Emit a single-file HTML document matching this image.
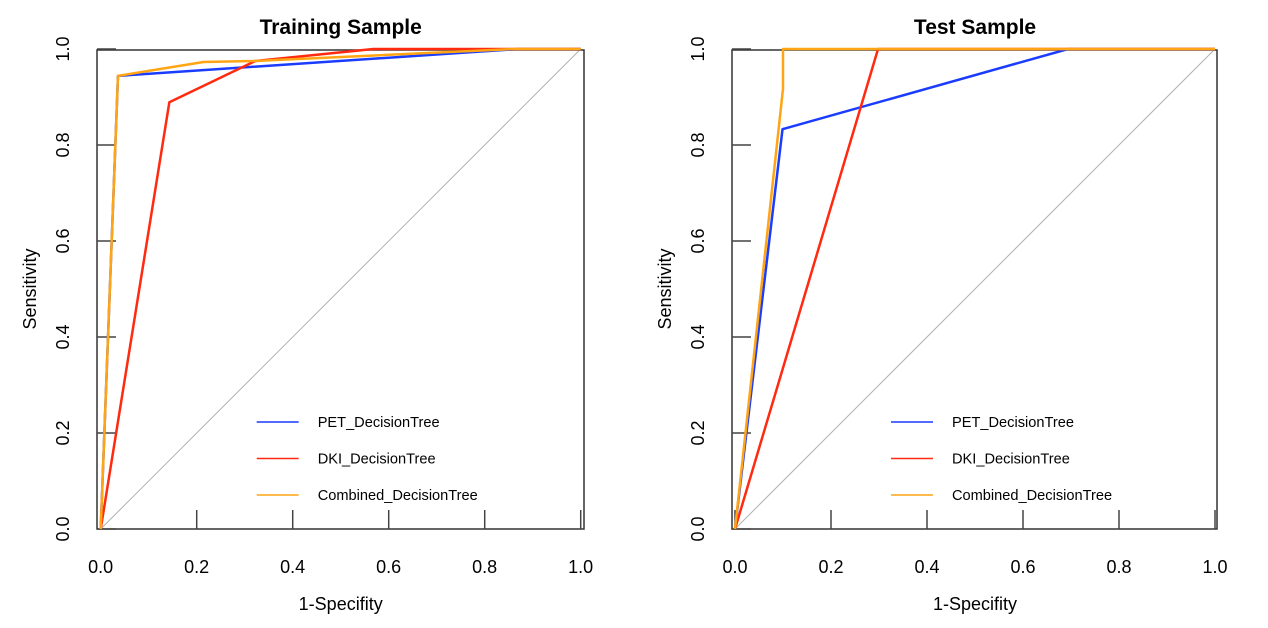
<!DOCTYPE html>
<html><head><meta charset="utf-8"><style>
body{margin:0;background:#fff}
svg{display:block;font-family:"Liberation Sans",Arial,sans-serif}
</style></head><body>
<svg id="chart" width="1268" height="628" viewBox="0 0 1268 628"></svg>
<script>
const panelTitles = ["Training Sample", "Test Sample"];
const seriesNames = ["PET_DecisionTree", "DKI_DecisionTree", "Combined_DecisionTree"];
const seriesColors = ["#1a3cff", "#ff2a10", "#ffa514"];
const ticks = [0, 0.2, 0.4, 0.6, 0.8, 1.0];
const tickLabels = ["0.0", "0.2", "0.4", "0.6", "0.8", "1.0"];
// Training sample [x = 1-specificity, y = sensitivity]
const trainPET = [[0,0],[0.036,0.944],[0.87,1],[1,1]];
const trainDKI = [[0,0],[0.143,0.889],[0.322,0.975],[0.568,1],[1,1]];
const trainCombined = [[0,0],[0.036,0.944],[0.214,0.973],[0.318,0.975],[0.86,1],[1,1]];
// Test sample
const testPET = [[0,0],[0.099,0.833],[0.694,1],[1,1]];
const testDKI = [[0,0],[0.298,1],[1,1]];
const testCombined = [[0,0],[0.1,0.917],[0.1,1],[1,1]];
const panelData = [[trainPET, trainDKI, trainCombined], [testPET, testDKI, testCombined]];

const NS = "http://www.w3.org/2000/svg";
const svg = document.getElementById("chart");
function mk(tag, attrs, parent) {
  const e = document.createElementNS(NS, tag);
  for (const k in attrs) e.setAttribute(k, attrs[k]);
  (parent || svg).appendChild(e);
  return e;
}
const panels = [{x0:100.7, bx0:97, bx1:584}, {x0:735, bx0:732, bx1:1217}];
const y0 = 529, span = 480;
panels.forEach((p, pi) => {
  const g = mk("g", {});
  
  
  const sx = v => p.x0 + v * span;
  const sy = v => y0 - v * span;
  const cx = sx(0.5);
  const t = mk("text", {x: cx, y: 34, "text-anchor": "middle", "font-size": 21, "font-weight": "bold", fill: "#000"}, g);
  t.textContent = panelTitles[pi];
  
  
  const d = mk("line", {x1: sx(0), y1: sy(0), x2: sx(1), y2: sy(1), stroke: "#b0b0b0", "stroke-width": 1}, g);
  
  
  const b = mk("rect", {x: p.bx0, y: 50, width: p.bx1 - p.bx0, height: y0 - 50, fill: "none", stroke: "#333", "stroke-width": 1.5}, g);
  
  
  ticks.forEach((v, i) => {
    const tx = mk("line", {x1: sx(v), y1: y0, x2: sx(v), y2: y0 - 19, stroke: "#444", "stroke-width": 1.5}, g);
    
    
    const ty = mk("line", {x1: p.bx0, y1: sy(v), x2: p.bx0 + 19, y2: sy(v), stroke: "#444", "stroke-width": 1.5}, g);
    
    
    const lx = mk("text", {x: sx(v), y: 573, "text-anchor": "middle", "font-size": 18, fill: "#000"}, g);
    lx.textContent = tickLabels[i];
    
    
    const ly = mk("text", {x: 0, y: 0, "text-anchor": "middle", "font-size": 18, fill: "#000", transform: `translate(${p.bx0 - 28},${sy(v)}) rotate(-90)`}, g);
    ly.textContent = tickLabels[i];
    
    
  });
  const xl = mk("text", {x: cx, y: 610, "text-anchor": "middle", "font-size": 18, fill: "#000"}, g);
  xl.textContent = "1-Specifity";
  
  
  const yl = mk("text", {x: 0, y: 0, "text-anchor": "middle", "font-size": 18, fill: "#000", transform: `translate(${p.bx0 - 61},${sy(0.5)}) rotate(-90)`}, g);
  yl.textContent = "Sensitivity";
  
  
  panelData[pi].forEach((pts, si) => {
    const pl = mk("polyline", {points: pts.map(q => sx(q[0]) + "," + sy(q[1])).join(" "), fill: "none", stroke: seriesColors[si], "stroke-width": 2.5, "stroke-linejoin": "round"}, g);
    
    
  });
  seriesNames.forEach((n, si) => {
    const ly = 422 + si * 36.5;
    const lx0 = sx(0.325);
    const ll = mk("line", {x1: lx0, y1: ly, x2: lx0 + 42, y2: ly, stroke: seriesColors[si], "stroke-width": 1.5}, g);
    
    
    const lt = mk("text", {x: lx0 + 61, y: ly + 5, "font-size": 14.6, fill: "#000"}, g);
    lt.textContent = n;
    
    
  });
});
</script>
</body></html>
